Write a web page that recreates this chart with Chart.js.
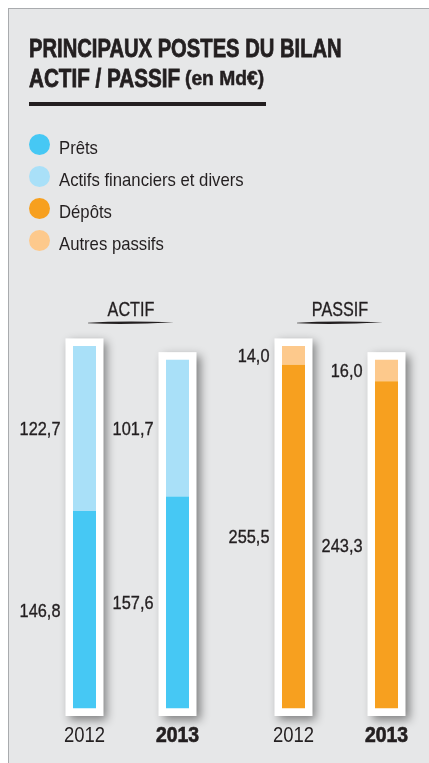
<!DOCTYPE html>
<html lang="fr">
<head>
<meta charset="utf-8">
<script src="https://cdn.jsdelivr.net/npm/chart.js@4/dist/chart.umd.min.js"></script>
<style>
  html, body { margin:0; padding:0; width:429px; height:763px; overflow:hidden; background:#ffffff; }
  #panel { position:absolute; left:8px; top:8px; right:0; bottom:0; background:#e6e7e8;
           border-left:1.5px solid #a9abae; border-top:1.5px solid #a9abae; }
  #wrap { position:absolute; left:0; top:0; width:460px; height:763px; }
  .ff { font-family:'Liberation Sans', Arial, sans-serif; color:#231f20; }
  .t { position:absolute; white-space:nowrap; font-weight:bold; transform-origin:0 0; -webkit-text-stroke:0.8px #231f20; }
  #t1 { left:29px; top:34.7px; font-size:26px; line-height:26px; }
  #t2 { left:29px; top:65px; font-size:26px; line-height:26px; }
  #t3 { left:185px; top:69.4px; font-size:19.5px; line-height:19.5px; -webkit-text-stroke:0.5px #231f20; }
  #tline { position:absolute; left:29px; top:102px; width:237px; height:3.5px; background:#231f20; }
  #legend { position:absolute; left:0; top:0; }
  .dot { position:absolute; width:21px; height:21px; border-radius:50%; }
  .lt { position:absolute; font-size:18.5px; line-height:18.5px; white-space:nowrap; transform-origin:0 0; }
</style>
</head>
<body>
<div id="panel"></div>
<div id="wrap"><canvas id="c" width="460" height="763"></canvas></div>
<div class="t ff" id="t1">PRINCIPAUX POSTES DU BILAN</div>
<div class="t ff" id="t2">ACTIF / PASSIF</div>
<div class="t ff" id="t3">(en Md€)</div>
<div id="tline"></div>
<div id="legend" class="ff"></div>
<script>
// ---- data ----
const groups = ['ACTIF', 'PASSIF'];
const years = ['2012', '2013'];
const seriesNames = ['Prêts', 'Actifs financiers et divers', 'Dépôts', 'Autres passifs'];
const seriesColors = ['#46c8f4', '#a9e0f8', '#f7a01f', '#fdc98c'];
const prets = [146.8, 157.6];          // 2012, 2013
const actifsFinanciers = [122.7, 101.7];
const depots = [255.5, 243.3];
const autresPassifs = [14.0, 16.0];

const FONT = "'Liberation Sans', Arial, sans-serif";
const INK = '#231f20';

function fitWidth(el, target) {
  const s = target / el.offsetWidth;
  el.style.transform = 'scaleX(' + s + ')';
  return s;
}
fitWidth(document.getElementById('t1'), 313);
fitWidth(document.getElementById('t2'), 151);
fitWidth(document.getElementById('t3'), 79);

// legend (HTML, built from series arrays)
(function(){
  const lg = document.getElementById('legend');
  const texts = [];
  seriesNames.forEach((name, i) => {
    const baseline = 155 + i * 32;
    const dot = document.createElement('div');
    dot.className = 'dot';
    dot.style.background = seriesColors[i];
    dot.style.left = '29px';
    dot.style.top = (baseline - 20.8) + 'px';
    lg.appendChild(dot);
    const tx = document.createElement('div');
    tx.className = 'lt';
    tx.style.left = '59px';
    tx.style.top = (baseline - 15.66) + 'px';
    tx.textContent = name;
    lg.appendChild(tx);
    texts.push(tx);
  });
  const s = 185 / texts[1].offsetWidth;
  texts.forEach(t => t.style.transform = 'scaleX(' + s + ')');
})();

// datasets: bottom & top segment per year, stacked per year
const datasets = [];
years.forEach((y, yi) => {
  datasets.push({ label: y + ' bas', stack: y, yearIndex: yi,
    data: [prets[yi], depots[yi]],
    backgroundColor: [seriesColors[0], seriesColors[2]] });
  datasets.push({ label: y + ' haut', stack: y, yearIndex: yi,
    data: [actifsFinanciers[yi], autresPassifs[yi]],
    backgroundColor: [seriesColors[1], seriesColors[3]] });
});

const fmt = v => v.toFixed(1).replace('.', ',');

function condText(ctx, text, x, y, font, align, sx, stroke) {
  ctx.save();
  ctx.translate(x, y);
  ctx.scale(sx, 1);
  ctx.font = font;
  ctx.textAlign = align;
  ctx.textBaseline = 'alphabetic';
  ctx.fillText(text, 0, 0);
  if (stroke) {
    ctx.strokeStyle = ctx.fillStyle;
    ctx.lineWidth = stroke;
    ctx.strokeText(text, 0, 0);
  }
  ctx.restore();
}

const framePlugin = {
  id: 'frames',
  beforeDatasetsDraw(chart) {
    const ctx = chart.ctx;
    const metas = chart.getSortedVisibleDatasetMetas();
    const boxes = {};
    metas.forEach(meta => {
      meta.data.forEach((el, i) => {
        const key = meta.stack + '_' + i;
        const b = boxes[key] || (boxes[key] = { x: el.x, w: el.width, top: Infinity, base: -Infinity });
        b.top = Math.min(b.top, el.y, el.base);
        b.base = Math.max(b.base, el.base, el.y);
      });
    });
    const pad = 7.5;
    Object.values(boxes).forEach(b => {
      ctx.save();
      ctx.shadowColor = 'rgba(0,0,0,0.45)';
      ctx.shadowBlur = 9;
      ctx.shadowOffsetX = 4;
      ctx.shadowOffsetY = 4;
      ctx.fillStyle = '#ffffff';
      ctx.fillRect(b.x - b.w / 2 - pad, b.top - pad, b.w + 2 * pad, b.base - b.top + 2 * pad);
      ctx.restore();
    });
  },
  afterDatasetsDraw(chart) {
    const ctx = chart.ctx;
    const area = chart.chartArea;
    const xs = chart.scales.x;
    ctx.save();
    ctx.fillStyle = INK;
    // value labels
    chart.getSortedVisibleDatasetMetas().forEach(meta => {
      const ds = chart.data.datasets[meta.index];
      meta.data.forEach((el, i) => {
        const mid = (el.y + el.base) / 2;
        condText(ctx, fmt(ds.data[i]), el.x - el.width / 2 - 12.5, mid + 0.358 * 19,
                 '19px ' + FONT, 'right', 0.86, 0.35);
      });
    });
    // year labels under each bar
    const seen = {};
    chart.getSortedVisibleDatasetMetas().forEach(meta => {
      const ds = chart.data.datasets[meta.index];
      meta.data.forEach((el, i) => {
        const key = meta.stack + '_' + i;
        if (seen[key]) return;
        seen[key] = true;
        const bold = ds.yearIndex === 1;
        condText(ctx, years[ds.yearIndex], el.x, area.bottom + 33.8,
                 (bold ? 'bold ' : '') + '21.5px ' + FONT, 'center', bold ? 0.9 : 0.86, bold ? 0.7 : 0);
      });
    });
    // group labels with brush underline
    groups.forEach((g, i) => {
      const cx = xs.getPixelForValue(i);
      condText(ctx, g, cx, area.top - 15.8, '19.5px ' + FONT, 'center', 0.83, 0.3);
      const y = area.top - 8.8, half = 43;
      ctx.beginPath();
      ctx.moveTo(cx - half, y - 0.3);
      ctx.quadraticCurveTo(cx - 10, y - 2.6, cx + half, y - 0.8);
      ctx.quadraticCurveTo(cx, y + 1.9, cx - half, y + 0.3);
      ctx.closePath();
      ctx.fill();
    });
    ctx.restore();
  }
};

new Chart(document.getElementById('c'), {
  type: 'bar',
  data: { labels: groups, datasets },
  options: {
    responsive: false,
    animation: false,
    devicePixelRatio: 1,
    layout: { padding: { left: 26.5, right: 15.5, top: 331.8, bottom: 54.5 } },
    datasets: { bar: { categoryPercentage: 0.89, barPercentage: 0.2473, borderWidth: 0 } },
    scales: {
      x: { display: false, stacked: true },
      y: { display: false, stacked: true, min: 0, max: 280 }
    },
    plugins: { legend: { display: false }, tooltip: { enabled: false } }
  },
  plugins: [framePlugin]
});
</script>
</body>
</html>
